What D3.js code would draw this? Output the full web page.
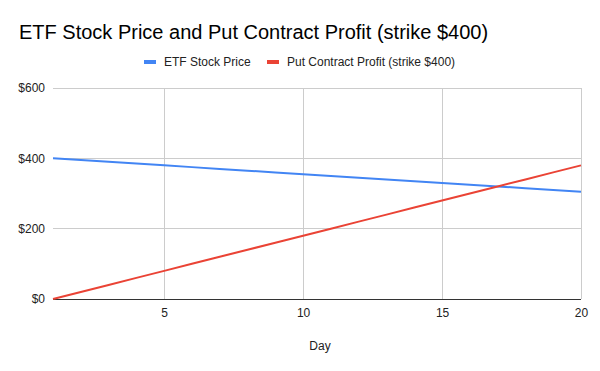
<!DOCTYPE html>
<html><head><meta charset="utf-8">
<script src="https://cdn.jsdelivr.net/npm/d3@7"></script>
<style>body{margin:0;background:#fff}text{font-family:Arial,"Liberation Sans",sans-serif}</style>
</head><body><svg id="c" width="600" height="371"></svg>
<script>
const days = [1,2,3,4,5,6,7,8,9,10,11,12,13,14,15,16,17,18,19,20];
const etfPrice = [400,395,390,385,380,375,370,365,360,355,350,345,340,335,330,325,320,315,310,305];
const putProfit = [0,20,40,60,80,100,120,140,160,180,200,220,240,260,280,300,320,340,360,380];
const xTicks = [5,10,15,20];
const yTicks = [0,200,400,600];
const seriesNames = ["ETF Stock Price","Put Contract Profit (strike $400)"];
const colors = ["#4285f4","#ea4335"];

const svg = d3.select("#c");
const x = d3.scaleLinear().domain([1,20]).range([53,581]);
const y = d3.scaleLinear().domain([0,600]).range([299,88]);

svg.append("text").attr("x",19).attr("y",39).attr("font-size",20).attr("fill","#000")
  .text("ETF Stock Price and Put Contract Profit (strike $400)");

// grid
svg.append("g").selectAll("line").data(yTicks.filter(d=>d>0)).join("line")
  .attr("x1",53).attr("x2",581).attr("y1",d=>y(d)).attr("y2",d=>y(d))
  .attr("stroke","#cccccc").attr("stroke-width",1).attr("shape-rendering","crispEdges");
svg.append("g").selectAll("line").data(xTicks).join("line")
  .attr("x1",d=>x(d)).attr("x2",d=>x(d)).attr("y1",88).attr("y2",299)
  .attr("stroke","#cccccc").attr("stroke-width",1).attr("shape-rendering","crispEdges");

// axes labels
const yAxis = d3.axisLeft(y).tickValues(yTicks).tickFormat(d=>"$"+d).tickSize(0).tickPadding(8);
const gy = svg.append("g").attr("transform","translate(53,0)").call(yAxis);
gy.select(".domain").remove();
gy.selectAll("text").attr("font-size",12).attr("fill","#222").attr("font-family","Arial,'Liberation Sans',sans-serif");

const xAxis = d3.axisBottom(x).tickValues(xTicks).tickSize(0).tickPadding(9);
const gx = svg.append("g").attr("transform","translate(0,299)").call(xAxis);
gx.select(".domain").remove();
gx.selectAll("text").attr("font-size",12).attr("fill","#222").attr("font-family","Arial,'Liberation Sans',sans-serif");

svg.append("line").attr("x1",53).attr("x2",581).attr("y1",y(0)).attr("y2",y(0))
  .attr("stroke","#333").attr("stroke-width",1).attr("shape-rendering","crispEdges");

svg.append("text").attr("x",320).attr("y",350).attr("text-anchor","middle")
  .attr("font-size",12).attr("fill","#222").text("Day");

const line = d3.line().x((d,i)=>x(days[i])).y(d=>y(d));
[etfPrice,putProfit].forEach((s,i)=>{
  svg.append("path").datum(s).attr("d",line).attr("fill","none")
    .attr("stroke",colors[i]).attr("stroke-width",2);
});

// legend
const legX = [144,267];
seriesNames.forEach((n,i)=>{
  svg.append("rect").attr("x",legX[i]).attr("y",60).attr("width",12).attr("height",4).attr("fill",colors[i]);
  svg.append("text").attr("x",legX[i]+20).attr("y",66).attr("font-size",12).attr("fill","#222").text(n);
});
</script></body></html>
